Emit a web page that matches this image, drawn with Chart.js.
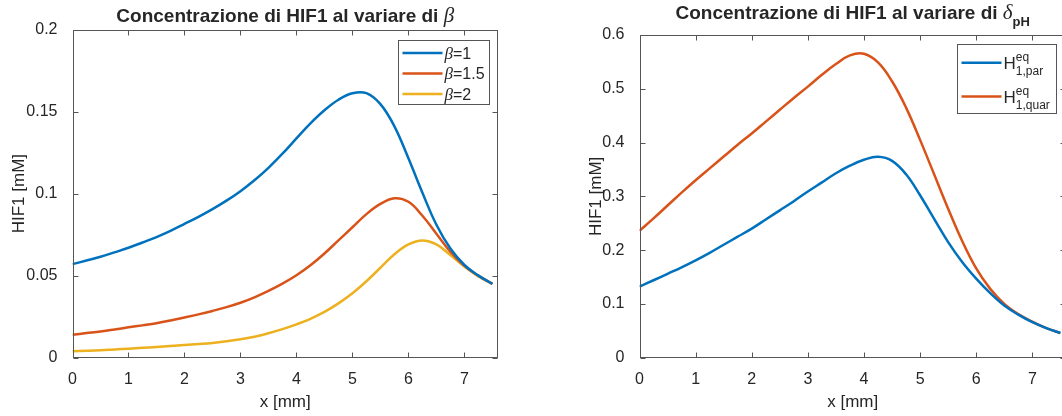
<!DOCTYPE html>
<html>
<head>
<meta charset="utf-8">
<script src="https://cdn.jsdelivr.net/npm/chart.js@4.4.1/dist/chart.umd.min.js"></script>
<style>
  html, body { margin: 0; padding: 0; background: #fff; overflow: hidden; }
  canvas { position: absolute; top: 0; }
  #left { left: 0; }
  #right { left: 531px; }
</style>
</head>
<body>
<canvas id="left" width="531" height="416"></canvas>
<canvas id="right" width="540" height="416"></canvas>
<script>
// ---- data ----
const X_TICKS = [0, 1, 2, 3, 4, 5, 6, 7]
const BETA_Y_TICKS = [0, 0.05, 0.1, 0.15, 0.2]
const PH_Y_TICKS = [0, 0.1, 0.2, 0.3, 0.4, 0.5, 0.6]

// same x samples for every curve (mm)
const XS = [0, 0.25, 0.5, 0.75, 1, 1.25, 1.5, 1.75, 2, 2.25, 2.5, 2.75, 3, 3.25, 3.5, 3.75,
    4, 4.25, 4.5, 4.75, 5, 5.25, 5.5, 5.75, 6, 6.25, 6.5, 6.75, 7, 7.25, 7.5]

const BETA_NAMES = ['1', '1.5', '2']
const BETA_1 = [0.0570, 0.0592, 0.0615, 0.0642, 0.0670, 0.0702, 0.0735, 0.0773, 0.0815, 0.0858, 0.0905, 0.0957, 0.1015, 0.1081, 0.1157, 0.1243,
    0.1336, 0.1428, 0.1508, 0.1572, 0.1612, 0.1612, 0.1545, 0.1410, 0.1215, 0.1005, 0.0810, 0.0665, 0.0565, 0.0500, 0.0450]
const BETA_15 = [0.0140, 0.0150, 0.0160, 0.0172, 0.0185, 0.0197, 0.0210, 0.0227, 0.0245, 0.0264, 0.0285, 0.0308, 0.0335, 0.0368, 0.0407, 0.0451,
    0.0502, 0.0563, 0.0635, 0.0715, 0.0795, 0.0875, 0.0937, 0.0972, 0.0950, 0.0865, 0.0755, 0.0645, 0.0560, 0.0500, 0.0450]
const BETA_2 = [0.0040, 0.0042, 0.0045, 0.0050, 0.0055, 0.0060, 0.0065, 0.0071, 0.0077, 0.0083, 0.0090, 0.0100, 0.0112, 0.0128, 0.0149, 0.0174,
    0.0203, 0.0237, 0.0279, 0.0331, 0.0393, 0.0466, 0.0548, 0.0630, 0.0690, 0.0714, 0.0690, 0.0625, 0.0555, 0.0495, 0.0450]

const PH_SUBS = ['1,par', '1,quar']
const PH_PAR = [0.132, 0.144, 0.156, 0.168, 0.181, 0.195, 0.210, 0.225, 0.240, 0.257, 0.274, 0.291, 0.309, 0.326, 0.343, 0.357,
    0.368, 0.3735, 0.366, 0.341, 0.302, 0.258, 0.215, 0.178, 0.147, 0.120, 0.097, 0.080, 0.066, 0.055, 0.046]
const PH_QUAR = [0.236, 0.259, 0.283, 0.307, 0.330, 0.352, 0.374, 0.396, 0.417, 0.439, 0.461, 0.483, 0.504, 0.526, 0.546, 0.562,
    0.565, 0.549, 0.514, 0.465, 0.405, 0.341, 0.277, 0.217, 0.166, 0.128, 0.100, 0.081, 0.067, 0.055, 0.046]

// MATLAB default line colours
const COLORS = ['#0072BD', '#D95319', '#EDB120']
const SANS = '"Liberation Sans", Arial, Helvetica, sans-serif'
const SERIF = '"Liberation Serif", "Times New Roman", serif'
const INK = '#262626'
const AXIS = '#555555'

// draws a list of text parts; a part with `stack` puts a superscript over a subscript
function drawRich(ctx, parts, x, y, align) {
    let width = 0
    const laid = []
    for (const p of parts) {
        const list = p.stack || [p]
        let w = 0
        for (const q of list) {
            ctx.font = q.font
            w = Math.max(w, ctx.measureText(q.text).width)
        }
        laid.push({ x: width, list })
        width += w
    }
    const x0 = align === 'center' ? x - width / 2 : x
    ctx.textAlign = 'left'
    ctx.textBaseline = 'alphabetic'
    ctx.fillStyle = INK
    for (const l of laid) {
        for (const q of l.list) {
            ctx.font = q.font
            ctx.fillText(q.text, x0 + l.x, y + (q.dy || 0))
        }
    }
}

const richTitle = {
    id: 'richTitle',
    afterDraw(chart, args, o) {
        const { ctx, chartArea } = chart
        ctx.save()
        drawRich(ctx, o.parts, (chartArea.left + chartArea.right) / 2, o.baseline, 'center')
        ctx.restore()
    }
}

const matlabBox = {
    id: 'matlabBox',
    afterDatasetsDraw(chart) {
        const { ctx, chartArea: a, scales: { x, y } } = chart
        const L = Math.round(a.left) + 0.5, R = Math.round(a.right) - 0.5
        const T = Math.round(a.top) + 0.5, B = Math.round(a.bottom) - 0.5
        ctx.save()
        ctx.strokeStyle = AXIS
        ctx.lineWidth = 1
        ctx.beginPath()
        x.ticks.forEach(t => {
            const px = Math.round(x.getPixelForValue(t.value)) + 0.5
            ctx.moveTo(px, B); ctx.lineTo(px, B - 5)
            ctx.moveTo(px, T); ctx.lineTo(px, T + 5)
        })
        y.ticks.forEach(t => {
            const py = Math.round(y.getPixelForValue(t.value)) + 0.5
            ctx.moveTo(L, py); ctx.lineTo(L + 5, py)
            ctx.moveTo(R, py); ctx.lineTo(R - 5, py)
        })
        ctx.stroke()
        ctx.strokeRect(L, T, R - L, B - T)
        ctx.restore()
    }
}

const boxLegend = {
    id: 'boxLegend',
    afterDraw(chart, args, o) {
        const { ctx, chartArea } = chart
        const left = Math.round(chartArea.right - o.right - o.width) + 0.5
        const top = Math.round(chartArea.top + o.top) + 0.5
        ctx.save()
        ctx.fillStyle = '#fff'
        ctx.fillRect(left, top, o.width, o.height)
        ctx.strokeStyle = AXIS
        ctx.lineWidth = 1
        ctx.strokeRect(left, top, o.width, o.height)
        chart.data.datasets.forEach((ds, i) => {
            const y = top + o.firstRow + i * o.rowGap
            ctx.strokeStyle = ds.borderColor
            ctx.lineWidth = ds.borderWidth
            ctx.beginPath()
            ctx.moveTo(left + 4, y)
            ctx.lineTo(left + 44, y)
            ctx.stroke()
            drawRich(ctx, o.labels[i], left + 46, y + o.textShift)
        })
        ctx.restore()
    }
}

function lineSet(label, ys, color) {
    return {
        label,
        data: XS.map((x, i) => ({ x, y: ys[i] })),
        borderColor: color,
        borderWidth: 2.5,
        pointRadius: 0,
        tension: 0.4,
        fill: false
    }
}

function axes(yTicks, yMax, yTitlePad) {
    const tickFont = { family: SANS, size: 16 }
    const titleFont = { family: SANS, size: 17 }
    return {
        x: {
            type: 'linear',
            min: 0,
            max: 7.6,
            afterBuildTicks: s => { s.ticks = X_TICKS.map(v => ({ value: v })) },
            afterFit: s => { s.height = 58.3 },
            grid: { display: false },
            border: { display: false },
            ticks: { color: INK, font: tickFont, padding: 4, maxRotation: 0, callback: v => String(v) },
            title: { display: true, text: 'x [mm]', color: INK, font: titleFont, padding: { top: 0, bottom: 3 } }
        },
        y: {
            type: 'linear',
            min: 0,
            max: yMax,
            afterBuildTicks: s => { s.ticks = yTicks.map(v => ({ value: v })) },
            afterFit: s => { s.width = 72.5 },
            grid: { display: false },
            border: { display: false },
            ticks: { color: INK, font: tickFont, padding: 7, callback: v => String(v) },
            title: { display: true, text: 'HIF1 [mM]', color: INK, font: titleFont, padding: { top: yTitlePad, bottom: 0 } }
        }
    }
}

const titleBold = { font: 'bold 19px ' + SANS }

new Chart(document.getElementById('left'), {
    type: 'line',
    data: {
        datasets: [
            lineSet('β=' + BETA_NAMES[0], BETA_1, COLORS[0]),
            lineSet('β=' + BETA_NAMES[1], BETA_15, COLORS[1]),
            lineSet('β=' + BETA_NAMES[2], BETA_2, COLORS[2])
        ]
    },
    options: {
        responsive: false,
        animation: false,
        layout: { padding: { left: 0, right: 33, top: 29.5, bottom: 0 } },
        scales: axes(BETA_Y_TICKS, 0.2, 9),
        plugins: {
            legend: { display: false },
            tooltip: { enabled: false },
            richTitle: {
                baseline: 21.5,
                parts: [
                    { text: 'Concentrazione di HIF1 al variare di ', ...titleBold },
                    { text: 'β', font: 'italic 21px ' + SERIF }
                ]
            },
            boxLegend: {
                right: 9, top: 10, width: 91, height: 64,
                firstRow: 12.4, rowGap: 20.5, textShift: 6,
                labels: BETA_NAMES.map(n => [
                    { text: 'β', font: 'italic 17px ' + SERIF },
                    { text: '=' + n, font: '16px ' + SANS }
                ])
            }
        }
    },
    plugins: [matlabBox, richTitle, boxLegend]
})

new Chart(document.getElementById('right'), {
    type: 'line',
    data: {
        datasets: [
            lineSet('H1,par eq', PH_PAR, COLORS[0]),
            lineSet('H1,quar eq', PH_QUAR, COLORS[1])
        ]
    },
    options: {
        responsive: false,
        animation: false,
        layout: { padding: { left: 36, right: 5, top: 35, bottom: 0 } },
        scales: axes(PH_Y_TICKS, 0.6, 19),
        plugins: {
            legend: { display: false },
            tooltip: { enabled: false },
            richTitle: {
                baseline: 19,
                parts: [
                    { text: 'Concentrazione di HIF1 al variare di ', ...titleBold },
                    { text: 'δ', font: 'italic 21px ' + SERIF },
                    { text: 'pH', font: 'bold 13px ' + SANS, dy: 7 }
                ]
            },
            boxLegend: {
                right: 10, top: 9, width: 99, height: 69,
                firstRow: 18.3, rowGap: 33.7, textShift: 6,
                labels: PH_SUBS.map(s => [
                    { text: 'H', font: '17px ' + SANS },
                    { stack: [
                        { text: 'eq', font: '12px ' + SANS, dy: -8 },
                        { text: s, font: '12px ' + SANS, dy: 6 }
                    ] }
                ])
            }
        }
    },
    plugins: [matlabBox, richTitle, boxLegend]
})
</script>
</body>
</html>
